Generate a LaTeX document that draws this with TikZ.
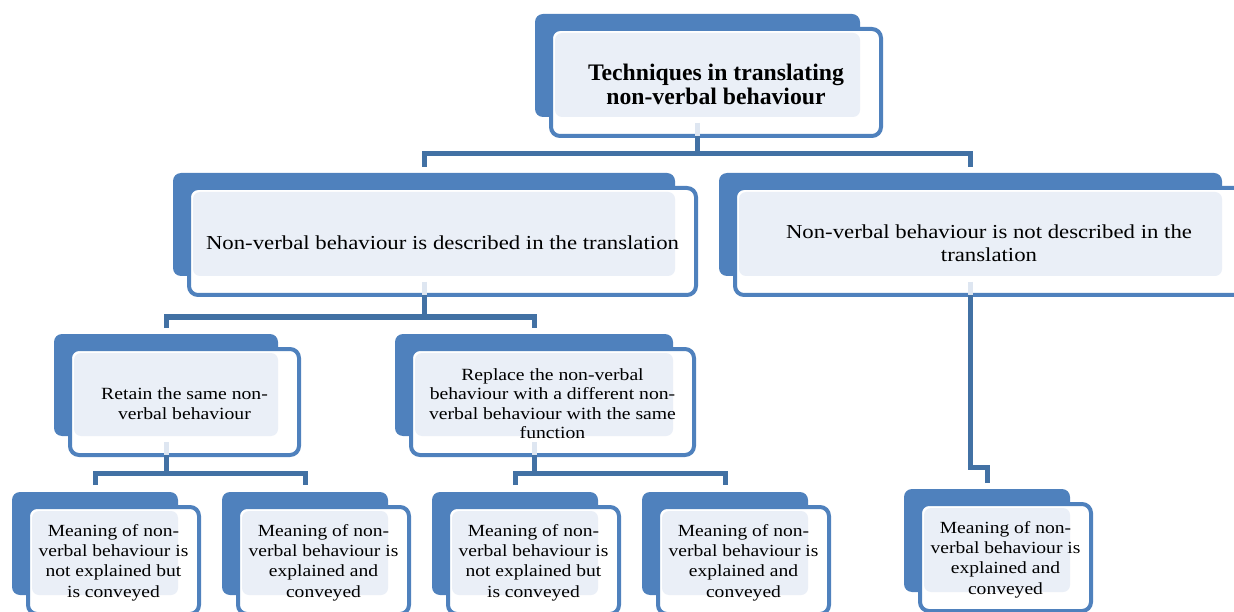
\documentclass[tikz,border=0pt]{standalone}
\usepackage{fontspec}
\setmainfont{Liberation Serif}[FakeStretch=1.15]
\newfontfamily\titlefont{Liberation Serif}
\definecolor{bk}{RGB}{79,129,189}
\definecolor{conn}{RGB}{66,113,164}
\definecolor{lit}{RGB}{234,239,247}
\definecolor{faintc}{RGB}{222,230,241}
\tikzset{
  backbox/.style={fill=bk, draw=none, rounded corners=8pt, inner sep=0pt, outer sep=0pt},
  outbox/.style={fill=white, draw=bk, line width=4pt, rounded corners=9pt, inner sep=0pt, outer sep=0pt},
  litbox/.style={fill=lit, draw=none, rounded corners=7pt, inner sep=0pt, outer sep=0pt},
  conn/.style={draw=conn, line width=5pt},
  faint/.style={draw=faintc, line width=5pt},
  ttxt/.style={font=\titlefont\bfseries\fontsize{23.7}{23.5}\selectfont, align=center, inner sep=0pt, yshift=-2pt},
  mtxt/.style={font=\fontsize{19.8}{23}\selectfont, align=center, inner sep=0pt, yshift=-1.5pt},
  stxt/.style={font=\fontsize{17.1}{19.4}\selectfont, align=center, inner sep=0pt, yshift=-1.5pt},
  btxt/.style={font=\fontsize{17}{20.3}\selectfont, align=center, inner sep=0pt, yshift=-2pt},
}
\newcommand\mkbox[7]{%
  \pgfmathsetmacro\bxa{#2+#4/2}\pgfmathsetmacro\bya{#3+#5/2}%
  \node[backbox, minimum width=#4pt, minimum height=#5pt] (#1b) at (\bxa,\bya) {};
  \pgfmathsetmacro\oxa{#2+#4/2+18.5}\pgfmathsetmacro\oya{#3+#5/2+17}%
  \pgfmathsetmacro\ow{#4+5}\pgfmathsetmacro\oh{#5+4}%
  \node[outbox, minimum width=\ow pt, minimum height=\oh pt] (#1o) at (\oxa,\oya) {};
  \pgfmathsetmacro\lxa{#2+#4/2+10}\pgfmathsetmacro\lya{#3+#5/2+9.5}%
  \pgfmathsetmacro\lw{#4-20}\pgfmathsetmacro\lh{#5-19}%
  \node[litbox, minimum width=\lw pt, minimum height=\lh pt] (#1l) at (\lxa,\lya) {};
  \node[#6] (#1) at (\oxa,\oya) {#7};
}
\begin{document}
\begin{tikzpicture}[x=1pt, y=-1pt]
\useasboundingbox (0,0) rectangle (1234,612);
\coordinate (hy0) at (0,154);
\coordinate (hy1) at (0,317);
\coordinate (hy2) at (0,473);
\coordinate (hy3) at (0,467);

\mkbox{top}{535}{14}{325}{103}{ttxt}{Techniques in translating\\non-verbal behaviour}
\mkbox{L}{173}{173}{502}{103}{mtxt}{Non-verbal behaviour is described in the translation}
\mkbox{R}{719}{173}{503}{103}{mtxt}{Non-verbal behaviour is not described in the\\translation}
\mkbox{LA}{54}{334}{224}{102}{stxt}{Retain the same non-\\verbal behaviour}
\mkbox{LB}{395}{334}{278}{102}{stxt}{Replace the non-verbal\\behaviour with a different non-\\verbal behaviour with the same\\function}
\mkbox{A}{12}{492}{166}{103}{btxt}{Meaning of non-\\verbal behaviour is\\not explained but\\is conveyed}
\mkbox{B}{222}{492}{166}{103}{btxt}{Meaning of non-\\verbal behaviour is\\explained and\\conveyed}
\mkbox{C}{432}{492}{166}{103}{btxt}{Meaning of non-\\verbal behaviour is\\not explained but\\is conveyed}
\mkbox{D}{642}{492}{166}{103}{btxt}{Meaning of non-\\verbal behaviour is\\explained and\\conveyed}
\mkbox{E}{904}{489}{166}{103}{btxt}{Meaning of non-\\verbal behaviour is\\explained and\\conveyed}

% faint segments inside outline boxes
\foreach \n in {top,L,R,LA,LB}{
  \draw[faint] ([yshift=-6pt]\n b.south) -- (\n b.south |- \n o.south);
}

% connectors
\draw[conn] (topb.south |- topo.south) -- (topb.south |- hy0);
\draw[conn] ([yshift=6pt]Lb.north) -- (Lb.north |- hy0) -- (Rb.north |- hy0) -- ([yshift=6pt]Rb.north);

\draw[conn] (Lb.south |- Lo.south) -- (Lb.south |- hy1);
\draw[conn] ([yshift=6pt]LAb.north) -- (LAb.north |- hy1) -- (LBb.north |- hy1) -- ([yshift=6pt]LBb.north);

\draw[conn] (LAb.south |- LAo.south) -- (LAb.south |- hy2);
\draw[conn] ([yshift=7pt]Ab.north) -- (Ab.north |- hy2) -- (Bb.north |- hy2) -- ([yshift=7pt]Bb.north);

\draw[conn] (LBb.south |- LBo.south) -- (LBb.south |- hy2);
\draw[conn] ([yshift=7pt]Cb.north) -- (Cb.north |- hy2) -- (Db.north |- hy2) -- ([yshift=7pt]Db.north);

\draw[conn] (Rb.south |- Ro.south) -- (Rb.south |- hy3) -- (Eb.north |- hy3) -- ([yshift=6pt]Eb.north);
\end{tikzpicture}
\end{document}
